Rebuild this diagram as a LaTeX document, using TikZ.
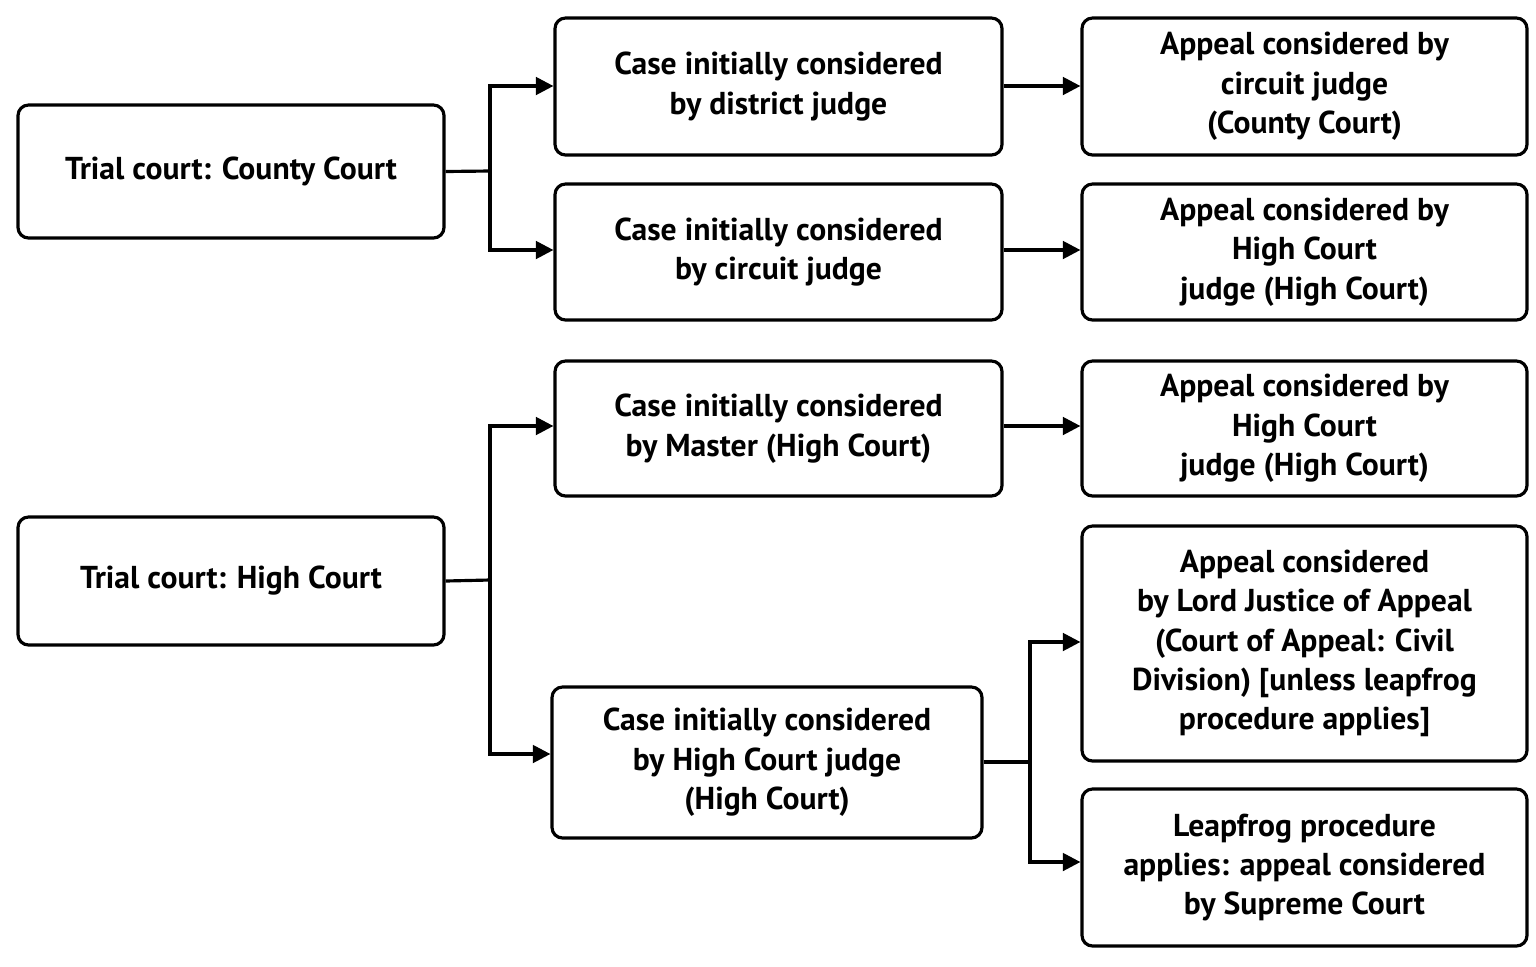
\documentclass[tikz,border=0pt]{standalone}
\usepackage{fontspec}
\setmainfont{PT Sans}
\usetikzlibrary{arrows.meta}
\begin{document}
\begin{tikzpicture}[x=0.01cm,y=-0.01cm,
  bx/.style={draw,line width=0.9pt,rounded corners=3pt,align=center,font=\bfseries\fontsize{9}{11.2}\selectfont},
  ar/.style={line width=0.9pt,-{Triangle[length=5pt,width=5pt]}},
  ln/.style={line width=0.9pt}]
\useasboundingbox (0,0) rectangle (1536,966);
\def\bb#1#2#3#4#5#6{\node[bx,minimum width={(#4-#2)*0.01cm},minimum height={(#5-#3)*0.01cm}] (#1) at ({(#2+#4)/2},{(#3+#5)/2}) {#6};}
\bb{A}{18}{105}{444}{238}{Trial court: County Court}
\bb{B1}{555}{18}{1002}{155}{Case initially considered\\by district judge}
\bb{B2}{555}{184}{1002}{320}{Case initially considered\\by circuit judge}
\bb{C1}{1082}{18}{1527}{155}{Appeal considered by\\circuit judge\\(County Court)}
\bb{C2}{1082}{184}{1527}{320}{Appeal considered by\\High Court\\judge (High Court)}
\bb{D}{18}{517}{444}{645}{Trial court: High Court}
\bb{E1}{555}{361}{1002}{496}{Case initially considered\\by Master (High Court)}
\bb{E2}{552}{687}{982}{838}{Case initially considered\\by High Court judge\\(High Court)}
\bb{F1}{1082}{361}{1527}{496}{Appeal considered by\\High Court\\judge (High Court)}
\bb{F2}{1082}{526}{1527}{761}{Appeal considered\\by Lord Justice of Appeal\\(Court of Appeal: Civil\\Division) [unless leapfrog\\procedure applies]}
\bb{F3}{1082}{789}{1527}{946}{Leapfrog procedure\\applies: appeal considered\\by Supreme Court}
\coordinate (a1) at (490,171);
\draw[ln] (A.east) -- (a1);
\draw[ar] (a1) |- (B1.west |- 0,86);
\draw[ar] (a1) |- (B2.west |- 0,250);
\draw[ar] (B1.east |- 0,86) -- (C1.west |- 0,86);
\draw[ar] (B2.east |- 0,250) -- (C2.west |- 0,250);
\coordinate (d1) at (490,580);
\draw[ln] (D.east) -- (d1);
\draw[ar] (d1) |- (E1.west |- 0,426);
\draw[ar] (d1) |- (E2.west |- 0,754);
\draw[ar] (E1.east |- 0,426) -- (F1.west |- 0,426);
\coordinate (e1) at (1030,762);
\draw[ln] (E2.east |- e1) -- (e1);
\draw[ar] (e1) |- (F2.west |- 0,642);
\draw[ar] (e1) |- (F3.west |- 0,862);
\end{tikzpicture}
\end{document}
